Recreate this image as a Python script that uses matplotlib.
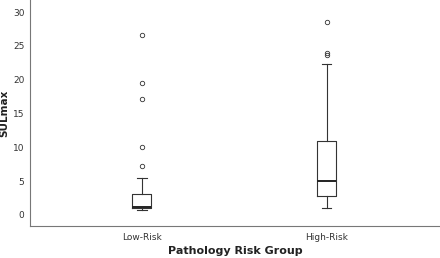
import matplotlib
matplotlib.use("Agg")
import matplotlib.pyplot as plt

# values
groups = ["Low-Risk", "High-Risk"]
whislo = [0.75, 1.1]
q1 = [1.1, 2.8]
med = [1.2, 5.0]
q3 = [3.1, 10.9]
whishi = [5.5, 22.3]
fliers = [
    [7.3, 10.1, 17.2, 19.5, 26.6],
    [23.7, 24.0, 28.6],
]

stats = []
for i, g in enumerate(groups):
    stats.append({
        "label": g,
        "whislo": whislo[i],
        "q1": q1[i],
        "med": med[i],
        "q3": q3[i],
        "whishi": whishi[i],
        "fliers": fliers[i],
    })

fig = plt.figure(figsize=(4.4, 2.58), dpi=100)
ax = fig.add_axes([30 / 440, 32 / 258, 410 / 440, 226 / 258])

line_col = "#333333"
ax.bxp(
    stats,
    positions=[1, 2],
    widths=0.103,
    showfliers=True,
    boxprops=dict(color=line_col, linewidth=0.8),
    whiskerprops=dict(color=line_col, linewidth=0.8),
    capprops=dict(color=line_col, linewidth=0.8),
    medianprops=dict(color="#222222", linewidth=1.4),
    flierprops=dict(marker="o", markersize=3.2, markerfacecolor="none",
                    markeredgecolor="#333333", markeredgewidth=0.6),
    capwidths=0.05,
)

ax.set_xlim(0.395, 2.612)
ax.set_ylim(-1.63, 31.8)
ax.set_yticks([0, 5, 10, 15, 20, 25, 30])
ax.tick_params(axis="both", length=0, labelsize=6.5, colors="#333333", pad=4)
ax.tick_params(axis="x", pad=5)

for s in ["top", "right"]:
    ax.spines[s].set_visible(False)
for s in ["left", "bottom"]:
    ax.spines[s].set_color("#777777")
    ax.spines[s].set_linewidth(0.8)

ax.set_ylabel("SULmax", fontsize=7.5, fontweight="bold", color="#222222")
ax.yaxis.set_label_coords(-0.062, 0.5)
ax.yaxis.label.set_va("center")
ax.set_xlabel("Pathology Risk Group", fontsize=8, fontweight="bold", color="#222222")
ax.xaxis.set_label_coords(0.5, -0.11)
ax.xaxis.label.set_va("center")

fig.savefig("out.png", dpi=100)
